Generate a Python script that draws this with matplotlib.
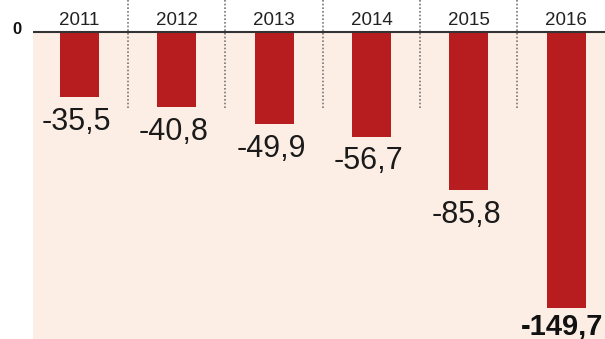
import numpy as np
import matplotlib.pyplot as plt

# dati
anni = ['2011', '2012', '2013', '2014', '2015', '2016']
valori = [-35.5, -40.8, -49.9, -56.7, -85.8, -149.7]
etichette = ['-35,5', '-40,8', '-49,9', '-56,7', '-85,8', '-149,7']

rosso = '#b71c1f'
pesca = '#fdeee5'

fig = plt.figure(figsize=(6.05, 3.39), dpi=100)
ax = fig.add_axes([33 / 605, 0, 572 / 605, 1])

x = np.arange(len(anni))
ax.set_xlim(-0.478, 5.40)
ax.set_ylim(-166.5, 17.35)

# sfondo sotto lo zero
ax.axhspan(-200, 0, color=pesca, zorder=0, lw=0)

# separatori tratteggiati
for xs in x[:-1] + 0.5:
    ax.plot([xs, xs], [17.35, -41], ls=(0, (1, 1.2)), color='#777777', lw=1.2, zorder=1)

ax.bar(x, valori, width=0.4, color=rosso, zorder=2)
ax.axhline(0, color='#333333', lw=1.5, zorder=3)

for i, (v, t) in enumerate(zip(valori, etichette)):
    ax.text(x[i], 6.5, anni[i], ha='center', va='center', fontsize=13.5,
            family='Liberation Sans', color='#222222')
    if i == len(valori) - 1:
        ax.annotate(t, (x[i], v), xytext=(-3, -3), textcoords='offset points',
                    ha='center', va='top', fontsize=21, fontweight='bold',
                    family='Liberation Sans', color='#111111')
    else:
        ax.annotate(t, (x[i], v), xytext=(-2, -7), textcoords='offset points',
                    ha='center', va='top', fontsize=22,
                    family='Liberation Sans', color='#1a1a1a')

fig.text(17 / 605, 1 - 30 / 339, '0', ha='center', va='center', fontsize=12,
         fontweight='bold', family='Liberation Sans', color='#111111')

ax.axis('off')
fig.savefig('out.png', dpi=100)
